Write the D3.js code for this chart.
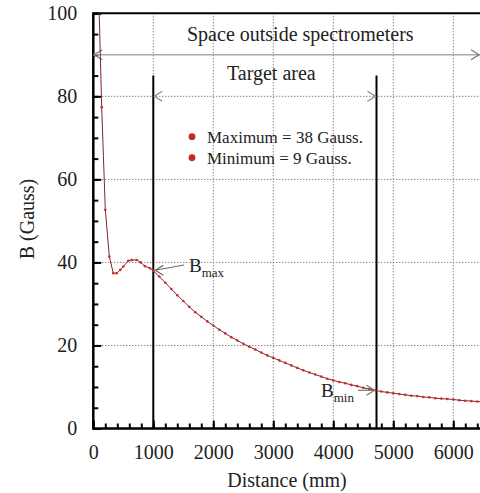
<!DOCTYPE html>
<html>
<head>
<meta charset="utf-8">
<script src="https://cdn.jsdelivr.net/npm/d3@7"></script>
<style>
  body { margin: 0; background: #fff; }
  svg { display: block; }
  svg text { font-family: "Liberation Serif", "Times New Roman", "DejaVu Serif", serif; }
</style>
</head>
<body>
<svg id="chart" width="480" height="493"></svg>
<script>
// distance along axis (mm) and field (Gauss)
distance = [80, 140, 200, 267, 333, 390, 450, 500, 583, 640, 723, 790, 860, 945,
  1000, 1100, 1200, 1300, 1400, 1500, 1600, 1700, 1800, 1900,
  2000, 2100, 2200, 2300, 2400, 2500, 2600, 2700, 2800, 2900,
  3000, 3100, 3200, 3300, 3400, 3500, 3600, 3700, 3800, 3900,
  4000, 4100, 4200, 4300, 4400, 4500, 4600, 4700, 4800, 4900,
  5000, 5100, 5200, 5300, 5400, 5500, 5600, 5700, 5800, 5900,
  6000, 6100, 6200, 6300, 6400, 6500];
field = [110, 77.4, 52.7, 41.4, 37.4, 37.4, 38.2, 39.0, 40.4, 40.6, 40.6, 40.0, 39.1, 38.6,
  38.0, 36.6, 35.1, 33.6, 32.1, 30.7, 29.3, 28.0, 26.9, 25.8,
  24.8, 23.8, 22.9, 22.0, 21.2, 20.4, 19.7, 19.0, 18.3, 17.6,
  17.0, 16.4, 15.8, 15.2, 14.6, 14.0, 13.5, 13.0, 12.5, 12.0,
  11.6, 11.2, 10.9, 10.5, 10.2, 9.8, 9.5, 9.2, 8.9, 8.7,
  8.5, 8.3, 8.1, 7.9, 7.8, 7.6, 7.5, 7.3, 7.2, 7.1,
  7.0, 6.8, 6.7, 6.6, 6.5, 6.4];

xMajor = [0, 1000, 2000, 3000, 4000, 5000, 6000];
yMajor = [0, 20, 40, 60, 80, 100];
targetStart = 1000;
targetEnd = 4720;
markerTop = 85;
spaceLevel = 90;
targetLevel = 80;
legendItems = ["Maximum = 38 Gauss.", "Minimum = 9 Gauss."];

const serif = "Liberation Serif, Times New Roman, serif";
let svg = d3.select("#chart").attr("font-family", serif);
let x = d3.scaleLinear().domain([0, 6500]).range([93.3, 483.3]);
let y = d3.scaleLinear().domain([0, 100]).range([428.5, 13.3]);
const pLeft = 93.3, pRight = 480, pTop = 13.3, pBottom = 428.5;

svg.append("clipPath").attr("id", "plot")
  .append("rect").attr("x", pLeft).attr("y", pTop).attr("width", pRight - pLeft).attr("height", pBottom - pTop);

// grid
svg.append("g").selectAll("line")
  .data(xMajor.filter(d => d > 0))
  .enter().append("line")
  .attr("x1", d => x(d)).attr("x2", d => x(d))
  .attr("y1", pTop).attr("y2", pBottom)
  .attr("stroke", "#555").attr("stroke-width", 1).attr("stroke-dasharray", "1,2");
svg.append("g").selectAll("line")
  .data(yMajor.filter(d => d > 0 && d < 100))
  .enter().append("line")
  .attr("x1", pLeft).attr("x2", pRight)
  .attr("y1", d => y(d)).attr("y2", d => y(d))
  .attr("stroke", "#555").attr("stroke-width", 1).attr("stroke-dasharray", "1,2");

// top frame
svg.append("line").attr("x1", pLeft).attr("x2", pRight).attr("y1", pTop).attr("y2", pTop)
  .attr("stroke", "#000").attr("stroke-width", 2);

// axes
function styleAxis(g) {
  g.attr("font-family", serif);
  g.select(".domain").remove();
  g.selectAll(".tick line").attr("stroke", "#000").attr("stroke-width", 2);
  g.selectAll("text").attr("font-size", 20).attr("fill", "#222").attr("font-family", serif);
}
svg.append("g").attr("transform", "translate(0," + pBottom + ")")
  .call(d3.axisBottom(x).tickValues(d3.range(0, 6501, 200)).tickSize(-5).tickFormat(""))
  .call(styleAxis);
svg.append("g").attr("transform", "translate(0," + pBottom + ")")
  .call(d3.axisBottom(x).tickValues(xMajor).tickSize(-8).tickPadding(16).tickFormat(d3.format("d")))
  .call(styleAxis);
svg.append("g").attr("transform", "translate(" + pLeft + ",0)")
  .call(d3.axisLeft(y).tickValues(d3.range(0, 101, 5)).tickSize(-5).tickFormat(""))
  .call(styleAxis);
svg.append("g").attr("transform", "translate(" + pLeft + ",0)")
  .call(d3.axisLeft(y).tickValues(yMajor).tickSize(-8).tickPadding(16).tickFormat(d3.format("d")))
  .call(styleAxis);

svg.append("line").attr("x1", pLeft).attr("x2", pRight).attr("y1", pBottom).attr("y2", pBottom)
  .attr("stroke", "#000").attr("stroke-width", 2.5);
svg.append("line").attr("x1", pLeft).attr("x2", pLeft).attr("y1", pTop - 1).attr("y2", pBottom + 1.2)
  .attr("stroke", "#000").attr("stroke-width", 2.5);

// axis titles
svg.append("text").attr("x", 287).attr("y", 487).attr("text-anchor", "middle")
  .attr("font-size", 20).attr("fill", "#222").text("Distance (mm)");
svg.append("text").attr("transform", "translate(34,219) rotate(-90)").attr("text-anchor", "middle")
  .attr("font-size", 20).attr("fill", "#222").text("B (Gauss)");

// target markers
svg.append("g").selectAll("line")
  .data([targetStart, targetEnd])
  .enter().append("line")
  .attr("x1", d => x(d)).attr("x2", d => x(d))
  .attr("y1", y(markerTop)).attr("y2", pBottom)
  .attr("stroke", "#000").attr("stroke-width", 2);

function chevron(px, py, dir, color) {
  svg.append("path")
    .attr("d", "M" + (px - dir * 8) + "," + (py - 5) + "L" + px + "," + py + "L" + (px - dir * 8) + "," + (py + 5))
    .attr("fill", "none").attr("stroke", color).attr("stroke-width", 1.2);
}

// space outside spectrometers
svg.append("line").attr("x1", pLeft).attr("x2", pRight).attr("y1", y(spaceLevel)).attr("y2", y(spaceLevel))
  .attr("stroke", "#aaa").attr("stroke-width", 1.5);
chevron(pLeft + 1, y(spaceLevel), -1, "#777");
chevron(pRight - 1, y(spaceLevel), 1, "#777");
svg.append("text").attr("x", 187).attr("y", 41).attr("font-size", 20).attr("fill", "#222")
  .text("Space outside spectrometers");

// target area
chevron(x(targetStart) + 1, y(targetLevel), -1, "#888");
chevron(x(targetEnd) - 1, y(targetLevel), 1, "#888");
svg.append("text").attr("x", 227).attr("y", 80).attr("font-size", 20).attr("fill", "#222")
  .text("Target area");

// legend
let leg = svg.append("g").selectAll("g").data(legendItems).enter().append("g")
  .attr("transform", (d, i) => "translate(192," + (136.7 + i * 21) + ")");
leg.append("circle").attr("r", 3.4).attr("fill", "#c62828");
leg.append("text").attr("x", 15).attr("y", 6).attr("font-size", 17).attr("fill", "#222").text(d => d);

// curve
let pts = distance.map((d, i) => [d, field[i]]);
let line = d3.line().x(d => x(d[0])).y(d => y(d[1]));
let curve = svg.append("g").attr("clip-path", "url(#plot)");
curve.append("path").datum(pts).attr("d", line)
  .attr("fill", "none").attr("stroke", "#7a2a2a").attr("stroke-width", 1);
curve.selectAll("circle").data(pts).enter().append("circle")
  .attr("cx", d => x(d[0])).attr("cy", d => y(d[1])).attr("r", 1.3).attr("fill", "#d02828");

// B max / B min annotations
svg.append("path").attr("d", "M184,265L" + (x(targetStart) + 2) + "," + (y(38) - 0.5))
  .attr("stroke", "#666").attr("stroke-width", 1);
chevron(x(targetStart) + 2, y(38) - 0.5, -1, "#666");
let bmax = svg.append("text").attr("x", 189).attr("y", 272).attr("font-size", 19).attr("fill", "#222");
bmax.append("tspan").text("B");
bmax.append("tspan").attr("dy", 5).attr("font-size", 13).text("max");

svg.append("line").attr("x1", 358).attr("x2", x(targetEnd) - 2).attr("y1", y(9.2)).attr("y2", y(9.2))
  .attr("stroke", "#777").attr("stroke-width", 1.2);
chevron(x(targetEnd) - 2, y(9.2), 1, "#777");
let bmin = svg.append("text").attr("x", 321).attr("y", 397).attr("font-size", 19).attr("fill", "#222");
bmin.append("tspan").text("B");
bmin.append("tspan").attr("dy", 5).attr("font-size", 13).text("min");
</script>
</body>
</html>
